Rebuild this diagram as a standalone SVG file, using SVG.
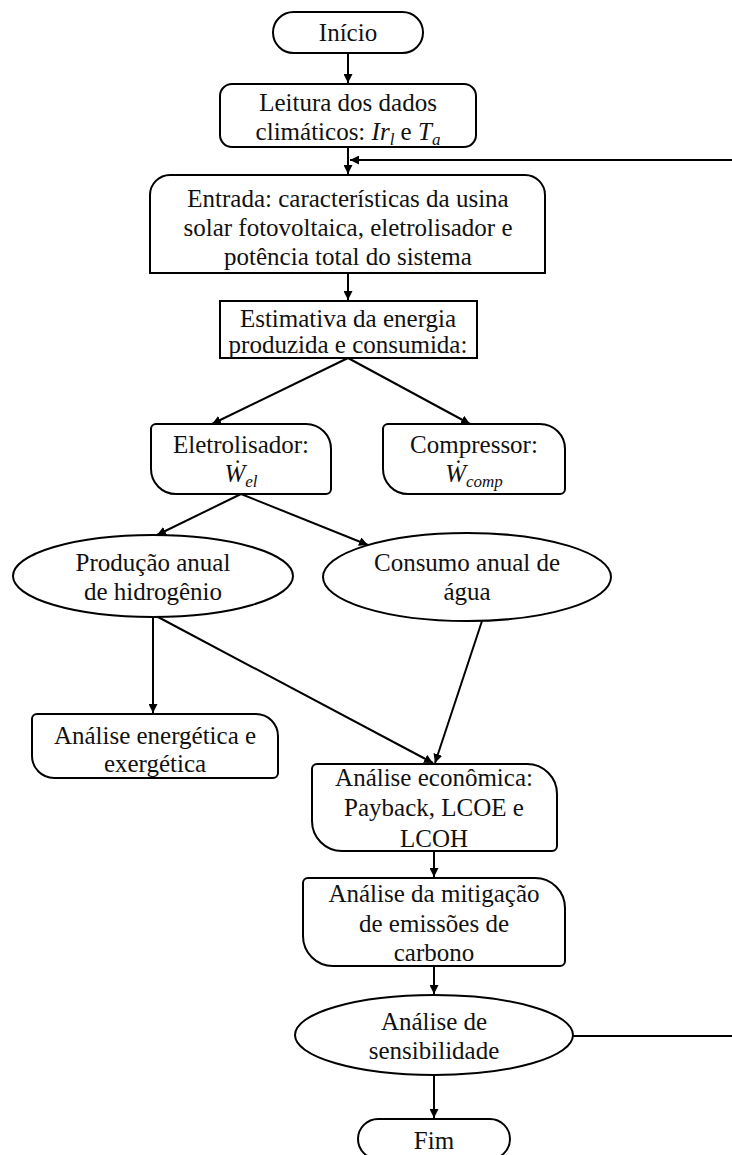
<svg xmlns="http://www.w3.org/2000/svg" width="732" height="1155" viewBox="0 0 732 1155">
<style>
.s{fill:#fff;stroke:#000;stroke-width:2}
.c{fill:none;stroke:#000;stroke-width:2}
text{font-family:"Liberation Serif","Times New Roman",serif;font-size:25px;fill:#111;text-anchor:middle}
.m{font-family:"Liberation Serif","DejaVu Serif",serif;font-style:italic}
.sub{font-size:17px}
</style>
<defs>
<marker id="ah" viewBox="0 0 10 10" refX="10" refY="5" markerWidth="9" markerHeight="9" markerUnits="userSpaceOnUse" orient="auto">
<path d="M0,0 L10,5 L0,10 Z" fill="#000"/>
</marker>
</defs>
<rect width="732" height="1155" fill="#fff"/>
<g id="connectors">
<line class="c" x1="348" y1="53" x2="348" y2="83" marker-end="url(#ah)"/>
<line class="c" x1="348" y1="147" x2="348" y2="174" marker-end="url(#ah)"/>
<path class="c" d="M573,1036 H740 V160 H350" marker-end="url(#ah)"/>
<line class="c" x1="348" y1="273" x2="348" y2="300" marker-end="url(#ah)"/>
<line class="c" x1="348" y1="358" x2="212" y2="424" marker-end="url(#ah)"/>
<line class="c" x1="348" y1="358" x2="470" y2="424" marker-end="url(#ah)"/>
<line class="c" x1="241" y1="494" x2="157" y2="535" marker-end="url(#ah)"/>
<line class="c" x1="241" y1="494" x2="368" y2="545" marker-end="url(#ah)"/>
<line class="c" x1="153" y1="617" x2="153" y2="713" marker-end="url(#ah)"/>
<line class="c" x1="158" y1="617" x2="433" y2="763" marker-end="url(#ah)"/>
<line class="c" x1="482" y1="621" x2="435" y2="763" marker-end="url(#ah)"/>
<line class="c" x1="434" y1="851" x2="434" y2="877" marker-end="url(#ah)"/>
<line class="c" x1="434" y1="966" x2="434" y2="994" marker-end="url(#ah)"/>
<line class="c" x1="434" y1="1075" x2="434" y2="1118" marker-end="url(#ah)"/>
</g>
<g id="inicio">
<rect class="s" x="273" y="12" width="150" height="41" rx="20.5"/>
<text x="348" y="41">Início</text>
</g>
<g id="leitura">
<rect class="s" x="220" y="84" width="256" height="63" rx="12"/>
<text x="348" y="111">Leitura dos dados</text>
<text x="348" y="140">climáticos: <tspan class="m">Ir</tspan><tspan class="m sub" dy="5">l</tspan><tspan dy="-5"> e </tspan><tspan class="m">T</tspan><tspan class="m sub" dy="5">a</tspan></text>
</g>
<g id="entrada">
<path class="s" d="M150,273 V195 A20,20 0 0 1 170,175 H525 A20,20 0 0 1 545,195 V273 Z"/>
<text x="348" y="207">Entrada: características da usina</text>
<text x="348" y="236">solar fotovoltaica, eletrolisador e</text>
<text x="348" y="265">potência total do sistema</text>
</g>
<g id="estimativa">
<rect class="s" x="220" y="301" width="257" height="57"/>
<text x="348" y="327">Estimativa da energia</text>
<text x="348" y="353">produzida e consumida:</text>
</g>
<g id="eletrolisador">
<path class="s" d="M156,424 H306 A25,25 0 0 1 331,449 V489 A5,5 0 0 1 326,494 H176 A25,25 0 0 1 151,469 V429 A5,5 0 0 1 156,424 Z"/>
<text x="241" y="453">Eletrolisador:</text>
<text x="241" y="482"><tspan class="m">Ẇ</tspan><tspan class="m sub" dy="5">el</tspan></text>
</g>
<g id="compressor">
<path class="s" d="M388,424 H540 A25,25 0 0 1 565,449 V489 A5,5 0 0 1 560,494 H408 A25,25 0 0 1 383,469 V429 A5,5 0 0 1 388,424 Z"/>
<text x="474" y="453">Compressor:</text>
<text x="474" y="482"><tspan class="m">Ẇ</tspan><tspan class="m sub" dy="5">comp</tspan></text>
</g>
<g id="producao">
<ellipse class="s" cx="153" cy="576" rx="140" ry="41"/>
<text x="153" y="571">Produção anual</text>
<text x="153" y="600">de hidrogênio</text>
</g>
<g id="consumo">
<ellipse class="s" cx="467" cy="577" rx="144" ry="44"/>
<text x="467" y="571">Consumo anual de</text>
<text x="467" y="600">água</text>
</g>
<g id="energetica">
<path class="s" d="M37,714 H256 A22,22 0 0 1 278,736 V773 A5,5 0 0 1 273,778 H54 A22,22 0 0 1 32,756 V719 A5,5 0 0 1 37,714 Z"/>
<text x="155" y="744">Análise energética e</text>
<text x="155" y="772">exergética</text>
</g>
<g id="economica">
<path class="s" d="M317,764 H527 A30,30 0 0 1 557,794 V846 A5,5 0 0 1 552,851 H342 A30,30 0 0 1 312,821 V769 A5,5 0 0 1 317,764 Z"/>
<text x="434" y="786">Análise econômica:</text>
<text x="434" y="816">Payback, LCOE e</text>
<text x="434" y="847">LCOH</text>
</g>
<g id="mitigacao">
<path class="s" d="M308,878 H535 A30,30 0 0 1 565,908 V961 A5,5 0 0 1 560,966 H333 A30,30 0 0 1 303,936 V883 A5,5 0 0 1 308,878 Z"/>
<text x="434" y="902">Análise da mitigação</text>
<text x="434" y="932">de emissões de</text>
<text x="434" y="961">carbono</text>
</g>
<g id="sensibilidade">
<ellipse class="s" cx="434" cy="1035" rx="139" ry="40"/>
<text x="434" y="1030">Análise de</text>
<text x="434" y="1059">sensibilidade</text>
</g>
<g id="fim">
<rect class="s" x="358" y="1119" width="152" height="40" rx="20"/>
<text x="434" y="1149">Fim</text>
</g>
</svg>
